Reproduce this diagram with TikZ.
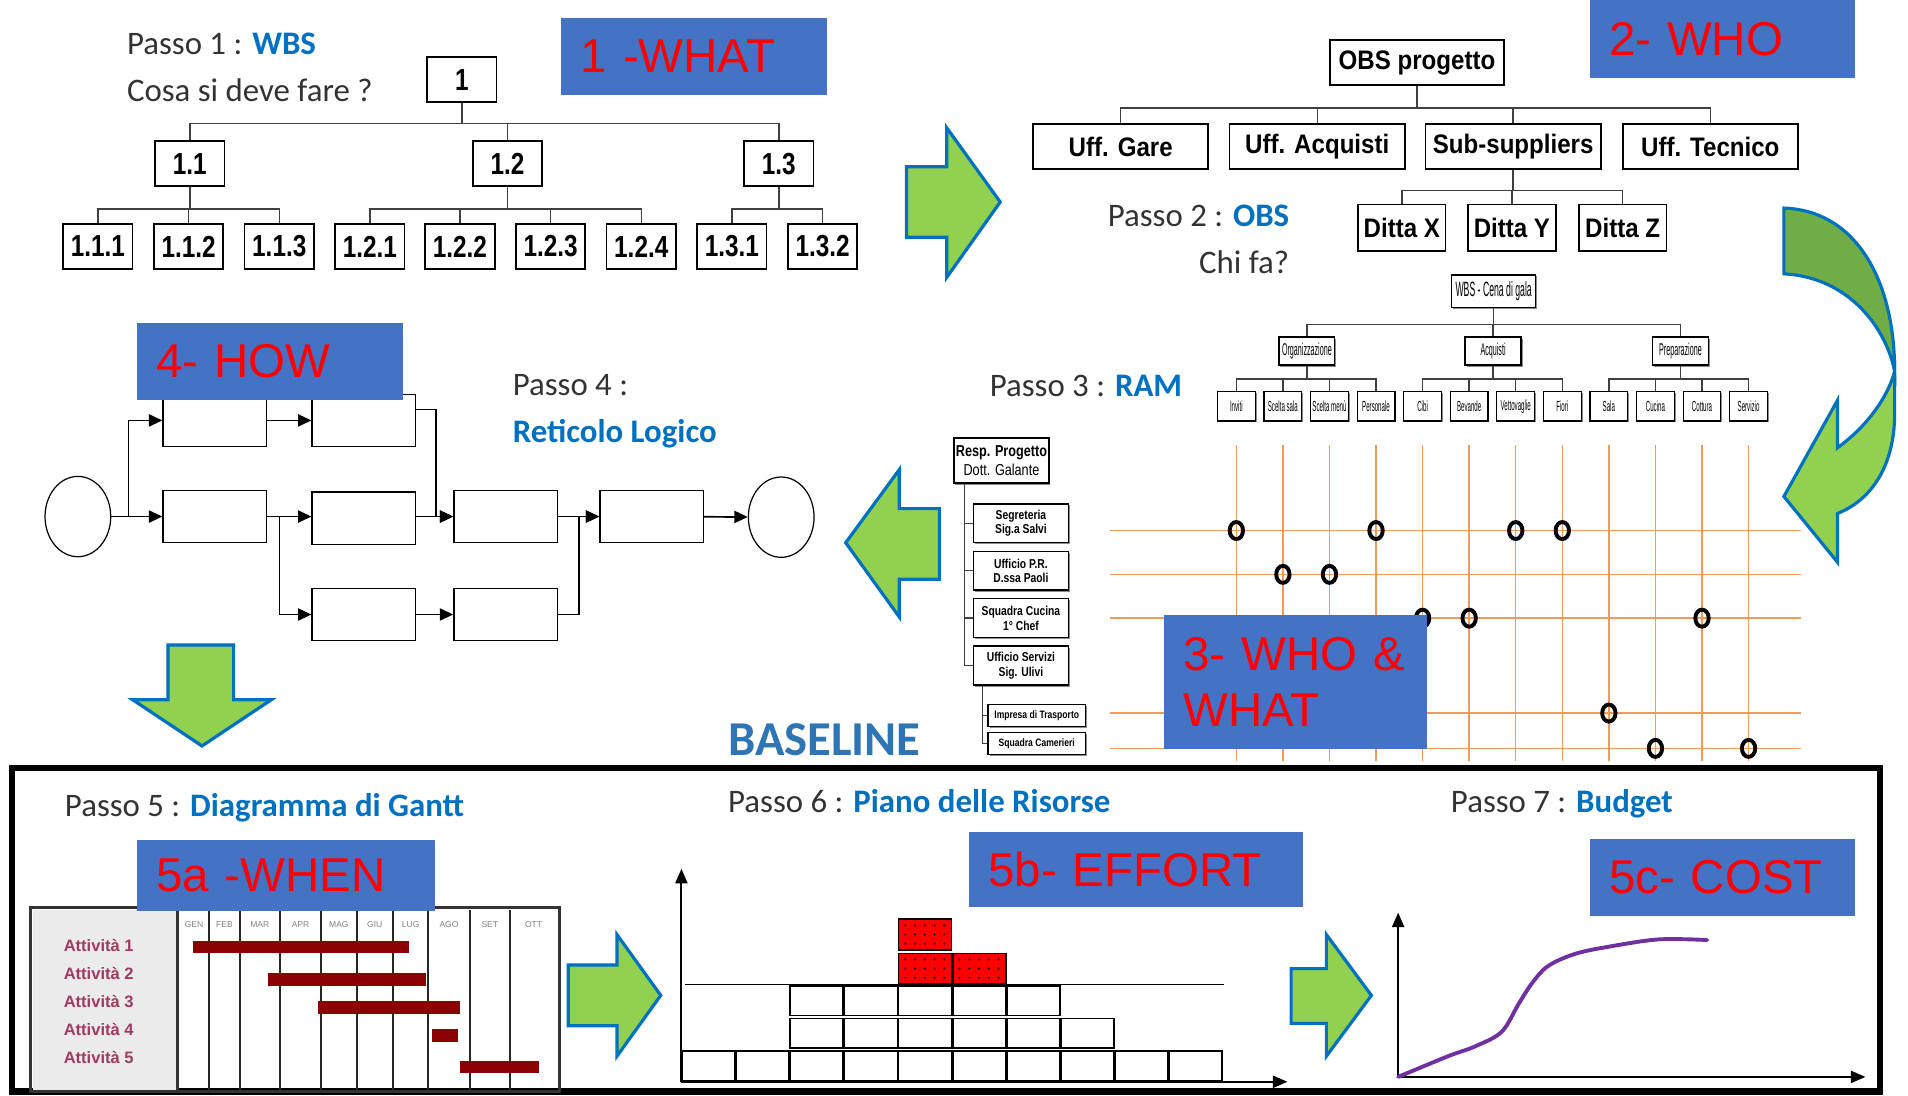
\documentclass[tikz,border=0pt]{standalone}
\usepackage{fontspec}
\setmainfont{Carlito}
\newfontfamily\arialfont{Liberation Sans}
\newfontfamily\obsfont[FakeStretch=0.9]{Liberation Sans}
\newfontfamily\narrowfont[FakeStretch=0.8]{Liberation Sans}
\newfontfamily\slimfont[FakeStretch=0.42]{Liberation Sans}
\usetikzlibrary{arrows.meta}
\usetikzlibrary{positioning,calc,shapes,shadows}
\definecolor{tagblue}{HTML}{4472C4}
\definecolor{stepblue}{HTML}{0070C0}
\definecolor{baseblue}{HTML}{2E75B6}
\definecolor{lightgreen}{HTML}{92D050}
\definecolor{darkgreen}{HTML}{70AD47}
\definecolor{gridorange}{HTML}{F39A5A}
\definecolor{barred}{HTML}{8B0000}
\definecolor{attred}{HTML}{A03A62}
\definecolor{costpurple}{HTML}{7030A0}
\tikzset{
    tag/.style={
        fill=tagblue,
        text=red,
        anchor=north west,
        align=left,
        inner xsep=8pt,
        inner ysep=0pt,
        font=\arialfont\fontsize{19.5}{23}\selectfont
    },
    passo/.style={
        anchor=base west,
        inner sep=0pt,
        text=black!80,
        font=\fontsize{13.5}{16}\selectfont
    },
    wbsbox/.style={
        draw,
        line width=0.7pt,
        fill=white,
        minimum width=28.5pt,
        minimum height=18.5pt,
        inner sep=0pt,
        font=\narrowfont\bfseries\fontsize{12.5}{14}\selectfont
    },
    obsbox/.style={
        draw,
        line width=0.7pt,
        fill=white,
        minimum width=72pt,
        minimum height=18.5pt,
        inner sep=0pt,
        font=\obsfont\bfseries\fontsize{11}{13}\selectfont
    },
    tinybox/.style={
        draw,
        line width=0.5pt,
        fill=white,
        inner sep=0pt,
        drop shadow={shadow xshift=0.6pt, shadow yshift=-0.6pt, fill=black!45, opacity=1}
    },
    leaf/.style={
        tinybox,
        minimum width=15.5pt,
        minimum height=12pt,
        font=\slimfont\fontsize{6}{7}\selectfont
    },
    orgbox/.style={
        draw,
        line width=0.6pt,
        fill=white,
        inner sep=0pt,
        align=center,
        minimum width=39pt,
        drop shadow={shadow xshift=0.6pt, shadow yshift=-0.6pt, fill=black!45, opacity=1}
    },
    tree/.style={draw=black!75, line width=0.6pt},
    task/.style={draw, line width=0.6pt, minimum width=42.5pt, minimum height=21.5pt, inner sep=0pt},
    event/.style={draw, ellipse, line width=0.5pt, minimum width=27pt, minimum height=33pt},
    flow/.style={draw, line width=0.7pt, -{Triangle[length=5.5pt, width=5pt]}},
    bigarrow/.style={fill=lightgreen, draw=stepblue, line width=1.3pt, line join=miter},
    gridline/.style={draw=gridorange, line width=0.6pt},
    ramdot/.style={draw, ellipse, line width=1.6pt, minimum width=5.5pt, minimum height=7pt, inner sep=0pt},
    axis/.style={draw, line width=0.8pt, -{Triangle[length=6pt, width=5pt]}},
    cell/.style={draw, line width=0.7pt},
    month/.style={inner sep=0pt, text=black!50, font=\arialfont\fontsize{3.5}{4}\selectfont},
    attlabel/.style={anchor=west, inner sep=0pt, text=attred, font=\arialfont\bfseries\fontsize{6.8}{8}\selectfont}
}

\begin{document}
\begin{tikzpicture}[x=0.5pt, y=-0.5pt]
    \useasboundingbox (0,0) rectangle (1568,900);

    % Passo 1 : WBS
    \node[passo] (p1) at (104,45) {Passo 1 : \textcolor{stepblue}{\bfseries WBS}};
    \node[passo] (q1) at (104,83) {Cosa si deve fare ?};
    \node[wbsbox] (w1) at (379.5,65.5) {1};
    \node[wbsbox] (w11) at (156,134.5) {1.1};
    \node[wbsbox] (w12) at (417,134.5) {1.2};
    \node[wbsbox] (w13) at (640,134.5) {1.3};
    \foreach \nm/\x/\lab in {111/80.5/1.1.1, 112/155/1.1.2, 113/229.5/1.1.3, 121/304/1.2.1, 122/378/1.2.2, 123/452.5/1.2.3, 124/527/1.2.4, 131/601.5/1.3.1, 132/676/1.3.2}
        \node[wbsbox] (w\nm) at (\x,202.5) {\lab};
    \foreach \c in {w11,w12,w13}
        \draw[tree] (w1.south) -- ++(0,17) -| (\c.north);
    \foreach \c in {w111,w112,w113}
        \draw[tree] (w11.south) -- ++(0,18) -| (\c.north);
    \foreach \c in {w121,w122,w123,w124}
        \draw[tree] (w12.south) -- ++(0,18) -| (\c.north);
    \foreach \c in {w131,w132}
        \draw[tree] (w13.south) -- ++(0,18) -| (\c.north);

    % Passo 2 : OBS
    \node[obsbox, minimum width=71.5pt] (obs) at (1164.5,51.5) {OBS progetto};
    \node[obsbox] (gare) at (921,120.5) {Uff. Gare};
    \node[obsbox] (acq) at (1082.5,120.5) {Uff. Acquisti};
    \node[obsbox] (sub) at (1243.5,120.5) {Sub-suppliers};
    \node[obsbox] (tec) at (1405.5,120.5) {Uff. Tecnico};
    \node[obsbox, minimum width=36pt, minimum height=19pt] (dx) at (1152,187) {Ditta X};
    \node[obsbox, minimum width=36pt, minimum height=19pt] (dy) at (1242.5,187) {Ditta Y};
    \node[obsbox, minimum width=36pt, minimum height=19pt] (dz) at (1333.5,187) {Ditta Z};
    \foreach \c in {gare,acq,sub,tec}
        \draw[tree] (obs.south) -- ++(0,18) -| (\c.north);
    \foreach \c in {dx,dy,dz}
        \draw[tree] (sub.south) -- ++(0,17) -| (\c.north);
    \node[passo] (p2) at (910,186) {Passo 2 : \textcolor{stepblue}{\bfseries OBS}};
    \node[passo] (q2) at (985,225) {Chi fa?};

    % Passo 3 : RAM
    \node[passo] (p3) at (813,326) {Passo 3 : \textcolor{stepblue}{\bfseries RAM}};
    \node[tinybox, minimum width=34.5pt, minimum height=13.5pt, font=\slimfont\fontsize{8.5}{9}\selectfont] (cena) at (1227.5,239.5) {WBS - Cena di gala};
    \node[tinybox, minimum width=23pt, minimum height=11.5pt, font=\slimfont\fontsize{7}{8}\selectfont] (orga) at (1074,288.5) {Organizzazione};
    \node[tinybox, minimum width=23pt, minimum height=11.5pt, font=\slimfont\fontsize{7}{8}\selectfont] (acqu) at (1227,288.5) {Acquisti};
    \node[tinybox, minimum width=23pt, minimum height=11.5pt, font=\slimfont\fontsize{7}{8}\selectfont] (prep) at (1381,288.5) {Preparazione};
    \foreach \lab [count=\i] in {Inviti, Scelta sala, Scelta menù, Personale, Cibi, Bevande, Vettovaglie, Fiori, Sala, Cucina, Cottura, Servizio}
        \node[leaf] (l\i) at ({1016+(\i-1)*38.27},334) {\lab};
    \foreach \c in {orga,acqu,prep}
        \draw[tree] (cena.south) -- ++(0,13) -| (\c.north);
    \foreach \i in {1,...,4}
        \draw[tree] (orga.south) -- ++(0,11) -| (l\i.north);
    \foreach \i in {5,...,8}
        \draw[tree] (acqu.south) -- ++(0,11) -| (l\i.north);
    \foreach \i in {9,...,12}
        \draw[tree] (prep.south) -- ++(0,11) -| (l\i.north);

    \foreach \i in {1,...,12}
        \draw[gridline] ($(l\i.south)+(0,19)$) -- ++(0,260);
    \foreach \yy in {436,472,508,586,615}
        \draw[gridline] (912,\yy) -- (1480,\yy);
    \foreach \c/\yy [count=\i] in {1/436, 4/436, 7/436, 8/436, 2/472, 3/472, 5/508, 6/508, 11/508, 9/586, 10/615, 12/615}
        \node[ramdot] (x\i) at (l\c |- 0,\yy) {};

    \node[orgbox, minimum height=18.5pt, font=\narrowfont\fontsize{6.5}{8}\selectfont] (resp) at (823,378.5) {\textbf{Resp. Progetto}\\Dott. Galante};
    \node[orgbox, minimum height=16pt, font=\narrowfont\bfseries\fontsize{5.3}{6}\selectfont] (segr) at (839,430) {Segreteria\\Sig.a Salvi};
    \node[orgbox, minimum height=16pt, font=\narrowfont\bfseries\fontsize{5.3}{6}\selectfont] (upr) at (839,469) {Ufficio P.R.\\D.ssa Paoli};
    \node[orgbox, minimum height=16pt, font=\narrowfont\bfseries\fontsize{5.3}{6}\selectfont] (cuc) at (839,508) {Squadra Cucina\\1° Chef};
    \node[orgbox, minimum height=16pt, font=\narrowfont\bfseries\fontsize{5.3}{6}\selectfont] (serv) at (839,547) {Ufficio Servizi\\Sig. Ulivi};
    \node[orgbox, minimum width=40pt, minimum height=9pt, font=\narrowfont\bfseries\fontsize{4.4}{5}\selectfont] (trasp) at (852,588) {Impresa di Trasporto};
    \node[orgbox, minimum width=40pt, minimum height=9pt, font=\narrowfont\bfseries\fontsize{4.4}{5}\selectfont] (cam) at (852,611) {Squadra Camerieri};
    \foreach \c in {segr,upr,cuc,serv}
        \draw[tree] ($(resp.south west)+(9,0)$) |- (\c.west);
    \foreach \c in {trasp,cam}
        \draw[tree] ($(serv.south west)+(8,0)$) |- (\c.west);

    % Passo 4 : reticolo
    \node[passo] (p4) at (421,325) {Passo 4 :};
    \node[passo, text=stepblue, font=\bfseries\fontsize{13.5}{16}\selectfont] (p4b) at (421,364) {Reticolo Logico};
    \node[event] (start) at (64,424.5) {};
    \node[task] (A) at (176.5,345.5) {};
    \node[task] (B) at (299,345.5) {};
    \node[task] (C) at (176.5,424.5) {};
    \node[task] (D) at (299,426) {};
    \node[task] (E) at (415.5,424.5) {};
    \node[task] (F) at (535.5,424.5) {};
    \node[task] (G) at (299,505) {};
    \node[task] (H) at (415.5,505) {};
    \node[event] (finish) at (642,425) {};
    \draw[flow] (start) -- (C);
    \draw[flow] (start.east) -- ++(14,0) |- (A.west);
    \draw[flow] (A) -- (B);
    \draw[flow] ([yshift=4.5pt]B.east) -- ++(16,0) |- (E.west);
    \draw[flow] (C) -- (D.west |- C.east);
    \draw[flow] (C.east) -- ++(10,0) |- (G.west);
    \draw[flow] (D.east |- E.west) -- (E.west);
    \draw[flow] (E) -- (F);
    \draw[flow] (G) -- (H);
    \draw[flow] (H.east) -- ++(17,0) |- (F.west);
    \draw[flow] (F) -- (finish);

    % frecce verdi
    \draw[bigarrow] (745,137) -- (778,137) -- (778,105) -- (822,166) -- (778,228) -- (778,195) -- (745,195) -- cycle;
    \draw[bigarrow] (1557,305) -- (1557,340) .. controls (1557,380) and (1540,410) .. (1510,422) -- (1510,462) -- (1466,408) -- (1510,329) -- (1510,368) .. controls (1535,350) and (1552,325) .. (1557,305) -- cycle;
    \draw[bigarrow, fill=darkgreen] (1466,171) .. controls (1525,173) and (1557,230) .. (1557,305) .. controls (1550,270) and (1520,228) .. (1466,225) -- cycle;
    \draw[bigarrow] (772,418) -- (739,418) -- (739,386) -- (695,446) -- (739,507) -- (739,476) -- (772,476) -- cycle;
    \draw[bigarrow] (138,530) -- (192,530) -- (192,575) -- (223,575) -- (166,613) -- (109,575) -- (138,575) -- cycle;
    \draw[bigarrow] (467,793) -- (507,793) -- (507,768) -- (543,818) -- (507,868) -- (507,843) -- (467,843) -- cycle;
    \draw[bigarrow] (1061,796) -- (1090,796) -- (1090,768) -- (1127,818) -- (1090,868) -- (1090,841) -- (1061,841) -- cycle;

    \node[passo, text=baseblue, font=\bfseries\fontsize{20}{24}\selectfont] (baseline) at (598,621) {BASELINE};
    \draw[line width=2.6pt] (10,631) rectangle (1545,897);

    % Passo 5 : Gantt
    \node[passo] (p5) at (53,671) {Passo 5 : \textcolor{stepblue}{\bfseries Diagramma di Gantt}};
    \fill[black!8] (27,748) rectangle (146,896);
    \foreach \x in {172,197,230,264,293,323,352,386,419}
        \draw[black!85, line width=0.8pt] (\x,748) -- (\x,896);
    \draw[black!80, line width=1.4pt] (25,746) rectangle (460,897);
    \draw[black!80, line width=1.4pt] (146,746) -- (146,897);
    \foreach \m/\x [count=\i] in {GEN/159.5, FEB/184.5, MAR/213.5, APR/247, MAG/278.5, GIU/308, LUG/337.5, AGO/369, SET/402.5, OTT/438.5}
        \node[month] (m\i) at (\x,760) {\m};
    \foreach \i/\yy in {1/777, 2/800, 3/823, 4/846, 5/869}
        \node[attlabel] (att\i) at (52,\yy) {Attività \i};
    \foreach \a/\b/\yy in {159/336/778, 220/350/805, 261/378/828, 355/376/851, 378/443/877}
        \fill[barred] ({\a},{\yy-5}) rectangle ({\b},{\yy+5});

    % Passo 6 : risorse
    \node[passo] (p6) at (598,668) {Passo 6 : \textcolor{stepblue}{\bfseries Piano delle Risorse}};
    \coordinate (r0) at (560,889);
    \coordinate (ry) at (560,714);
    \coordinate (rx) at (1058,889);
    \foreach \c in {1,...,10}
        \draw[cell] ({560.5+(\c-1)*44.5},863.5) rectangle ++(43.5,25);
    \foreach \c in {3,...,8}
        \draw[cell] ({560.5+(\c-1)*44.5},837) rectangle ++(43.5,24);
    \foreach \c in {3,...,7}
        \draw[cell] ({560.5+(\c-1)*44.5},810) rectangle ++(43.5,24.5);
    \draw[line width=0.6pt] (563,809) -- (1006,809);
    \foreach \c/\yy in {5/783.5, 6/783.5, 5/755.5} {
        \draw[cell, fill=red] ({560.5+(\c-1)*44.5},\yy) rectangle ++(43.5,25);
        \foreach \i in {0,...,4}
            \foreach \j in {0,...,2}
                \fill ({566+(\c-1)*44.5+\i*8},{\yy+5+\j*7.5}) circle (0.45pt);
    }
    \draw[axis] (r0) -- (ry);
    \draw[axis] (r0) -- (rx);

    % Passo 7 : budget
    \node[passo] (p7) at (1192,668) {Passo 7 : \textcolor{stepblue}{\bfseries Budget}};
    \coordinate (b0) at (1149,885);
    \coordinate (by) at (1149,750);
    \coordinate (bx) at (1533,885);
    \draw[axis] (b0) -- (by);
    \draw[axis] (b0) -- (bx);
    \draw[costpurple, line width=1.6pt, line cap=round] plot[smooth, tension=0.55] coordinates {(1149,885) (1190,868) (1212,860) (1234,848) (1248,825) (1259,808) (1272,794) (1294,784) (1322,778) (1363,772) (1403,772.5)};

    % etichette
    \node[tag, text width=93pt, minimum height=32pt] (what) at (461,14) {1 -WHAT};
    \node[tag, text width=93pt, minimum height=32pt] (who) at (1306,0) {2- WHO};
    \node[tag, text width=93.5pt, minimum height=31.5pt] (how) at (112,265) {4- HOW};
    \node[tag, text width=92pt, minimum height=55pt] (whowhat) at (956,505) {3- WHO \&\\WHAT};
    \node[tag, text width=106.5pt, minimum height=29pt] (when) at (112,690) {5a -WHEN};
    \node[tag, text width=121pt, minimum height=31pt] (effort) at (796,683) {5b- EFFORT};
    \node[tag, text width=93pt, minimum height=31.5pt] (cost) at (1306,689) {5c- COST};
\end{tikzpicture}
\end{document}
